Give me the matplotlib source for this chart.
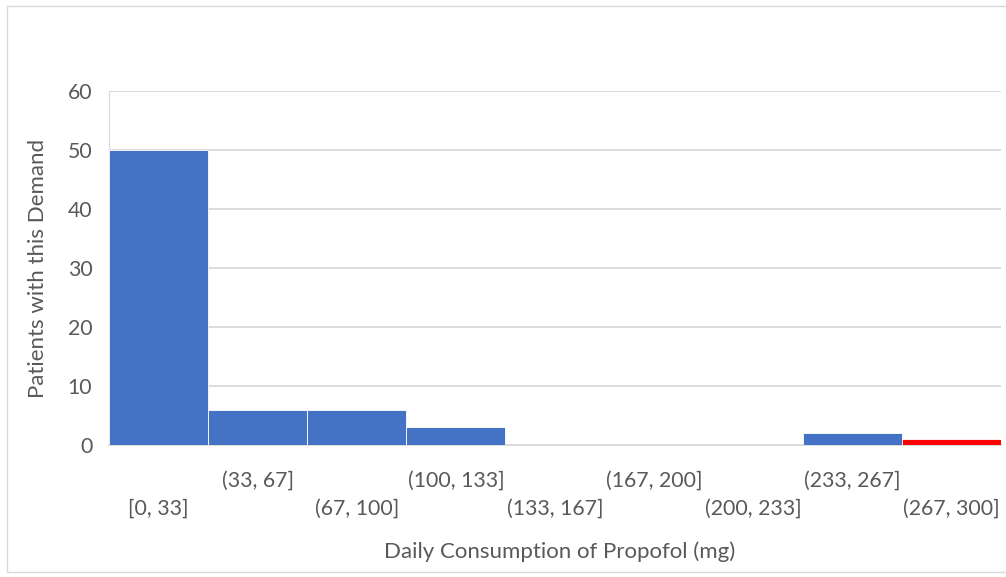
import matplotlib.pyplot as plt
from matplotlib.patches import Rectangle

bins = ["[0, 33]", "(33, 67]", "(67, 100]", "(100, 133]", "(133, 167]",
        "(167, 200]", "(200, 233]", "(233, 267]", "(267, 300]"]
patients = [50, 6, 6, 3, 0, 0, 0, 2, 1]
bar_colors = ["#4472C4"] * 8 + ["#FF0000"]

plt.rcParams['font.family'] = ['Lato', 'DejaVu Sans']
gray_text = "#595959"
grid_gray = "#D9D9D9"
fs = 15.3
fs_title = 16

W, H = 1006, 577
fig = plt.figure(figsize=(W / 100, H / 100), dpi=100)

# outer chart border
fig.patches.append(Rectangle((7 / W, 1 - 572 / H), 1.1, 566 / H, transform=fig.transFigure,
                             fill=False, edgecolor=grid_gray, linewidth=1))

ax = fig.add_axes([109 / W, 1 - 445 / H, (1001 - 109) / W, (445 - 91) / H])
x = list(range(len(bins)))
ax.bar(x, patients, width=1.0, color=bar_colors, edgecolor="white", linewidth=0.6, zorder=3)

ax.set_xlim(-0.5, len(bins) - 0.5)
ax.set_ylim(0, 60)
ax.set_yticks(range(0, 61, 10))
ax.yaxis.grid(True, color=grid_gray, linewidth=1.3, zorder=0)
ax.tick_params(axis='y', length=0, pad=12, labelsize=fs, labelcolor=gray_text)
ax.set_xticks([])

for s in ["top", "right"]:
    ax.spines[s].set_visible(False)
ax.spines["left"].set_color(grid_gray)
ax.spines["bottom"].set_color(grid_gray)
ax.spines["bottom"].set_linewidth(1.3)

# staggered category labels
for i, lab in enumerate(bins):
    y = -10.8 if i % 2 == 0 else -6.0
    ax.text(i, y, lab, ha="center", va="center", fontsize=fs, color=gray_text)

fig.text(38 / W, 1 - 268 / H, "Patients with this Demand", rotation=90,
         ha="center", va="center", fontsize=fs_title, color=gray_text)
fig.text(560 / W, 1 - 552 / H, "Daily Consumption of Propofol (mg)",
         ha="center", va="center", fontsize=fs_title, color=gray_text)

fig.savefig("out.png", dpi=100)
